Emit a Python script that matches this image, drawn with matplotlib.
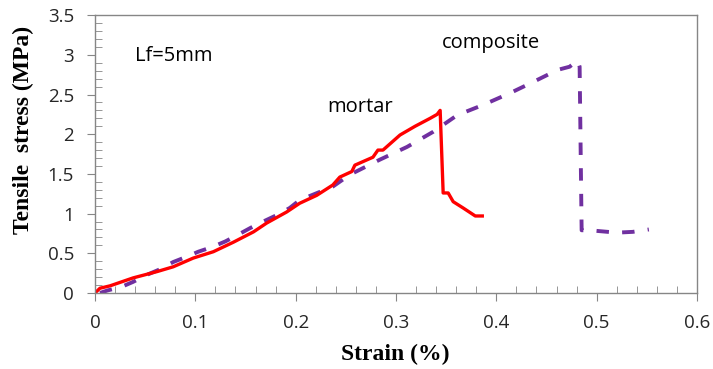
import matplotlib.pyplot as plt
from matplotlib.ticker import MultipleLocator

# mortar curve (red, solid)
mortar_strain = [0.0, 0.005, 0.015, 0.038, 0.062, 0.078, 0.098, 0.118, 0.138, 0.158,
                 0.171, 0.191, 0.204, 0.221, 0.237, 0.244, 0.256, 0.259, 0.277, 0.282,
                 0.287, 0.304, 0.319, 0.334, 0.341, 0.344, 0.347, 0.352, 0.357, 0.367,
                 0.379, 0.386]
mortar_stress = [0.0, 0.06, 0.09, 0.19, 0.27, 0.33, 0.44, 0.52, 0.64, 0.77,
                 0.88, 1.02, 1.13, 1.23, 1.36, 1.46, 1.53, 1.61, 1.71, 1.80,
                 1.80, 1.99, 2.10, 2.20, 2.25, 2.30, 1.26, 1.26, 1.15, 1.07,
                 0.97, 0.97]

# composite curve (purple, dashed)
comp_strain = [0.005, 0.012, 0.027, 0.038, 0.052, 0.065, 0.078, 0.09, 0.103, 0.117,
               0.13, 0.142, 0.155, 0.166, 0.181, 0.194, 0.204, 0.237, 0.254, 0.284,
               0.311, 0.337, 0.361, 0.387, 0.414, 0.437, 0.461, 0.473, 0.481, 0.483,
               0.485, 0.493, 0.52, 0.536, 0.552]
comp_stress = [0.0, 0.03, 0.08, 0.14, 0.23, 0.30, 0.39, 0.45, 0.52, 0.58,
               0.65, 0.73, 0.82, 0.89, 0.98, 1.07, 1.17, 1.34, 1.49, 1.68,
               1.84, 2.03, 2.24, 2.37, 2.52, 2.66, 2.81, 2.85, 2.93, 2.85,
               0.79, 0.79, 0.76, 0.77, 0.80]

fig = plt.figure(figsize=(7.13, 3.69), dpi=100)
ax = fig.add_axes([0.1332, 0.206, 0.8444, 0.753])

ax.plot(comp_strain, comp_stress, color='#7030A0', lw=2.8, dashes=(3.2, 3.4))
ax.plot(mortar_strain, mortar_stress, color='#FF0000', lw=2.4)

ax.set_xlim(0, 0.6)
ax.set_ylim(0, 3.5)
ax.xaxis.set_minor_locator(MultipleLocator(0.02))
ax.yaxis.set_minor_locator(MultipleLocator(0.1))
ax.set_xticks([0, 0.1, 0.2, 0.3, 0.4, 0.5, 0.6])
ax.set_xticklabels(['0', '0.1', '0.2', '0.3', '0.4', '0.5', '0.6'])
ax.set_yticks([0, 0.5, 1, 1.5, 2, 2.5, 3, 3.5])
ax.set_yticklabels(['0', '0.5', '1', '1.5', '2', '2.5', '3', '3.5'])

gray = '#868686'
for s in ax.spines.values():
    s.set_color(gray)
    s.set_linewidth(1.0)
ax.tick_params(which='major', direction='out', length=6, color=gray,
               labelsize=13.5, labelcolor='#262626')
ax.tick_params(axis='x', which='major', pad=9)
ax.tick_params(axis='y', which='major', pad=9)
ax.tick_params(which='minor', direction='in', length=5, color=gray)
for lab in ax.get_xticklabels() + ax.get_yticklabels():
    lab.set_fontfamily('Open Sans')

ax.set_xlabel('Strain (%)', fontfamily='Liberation Serif', fontweight='bold',
              fontsize=17, va='center')
ax.set_ylabel('Tensile  stress (MPa)', fontfamily='Liberation Serif', fontweight='bold',
              fontsize=17, va='center')
ax.xaxis.set_label_coords(0.498, -0.223)
ax.yaxis.set_label_coords(-0.118, 0.586)

ax.text(0.04, 2.98, 'Lf=5mm', fontfamily='Open Sans', fontsize=14.5, va='center')
ax.text(0.231, 2.34, 'mortar', fontfamily='Open Sans', fontsize=14.5, va='center')
ax.text(0.346, 3.15, 'composite', fontfamily='Open Sans', fontsize=14.5, va='center')

fig.savefig('out.png', dpi=100)
